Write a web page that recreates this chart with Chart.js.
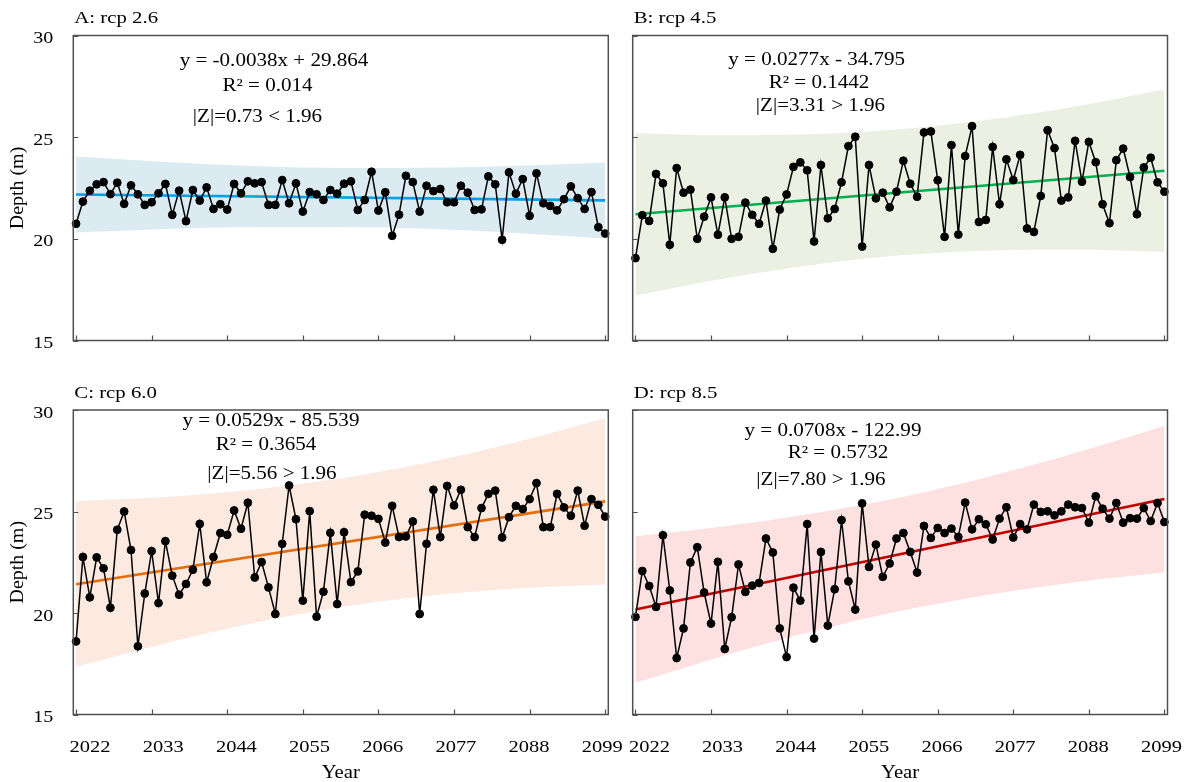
<!DOCTYPE html>
<html>
<head>
<meta charset="utf-8">
<title>Depth trends under RCP scenarios</title>
<script src="https://cdn.jsdelivr.net/npm/chart.js@4.4.1/dist/chart.umd.min.js"></script>
<style>
    body { margin: 0; background: #fff; }
    #wrap { position: relative; width: 1189px; height: 782px; }
    #wrap canvas { position: absolute; left: 0; top: 0; }
</style>
</head>
<body>
<div id="wrap">
    <canvas id="chartA" width="1189" height="782"></canvas>
    <canvas id="chartB" width="1189" height="782"></canvas>
    <canvas id="chartC" width="1189" height="782"></canvas>
    <canvas id="chartD" width="1189" height="782"></canvas>
</div>
<script>
'use strict';

// ====== DATA ======
const years = Array.from({ length: 78 }, (_, i) => 2022 + i);
const xTickYears = [2022, 2033, 2044, 2055, 2066, 2077, 2088, 2099];
const yTickValues = [15, 20, 25, 30];

const depthRcp26 = [
    20.74, 21.83, 22.37, 22.68, 22.79, 22.20, 22.76, 21.72, 22.63, 22.19,
    21.67, 21.80, 22.24, 22.70, 21.18, 22.37, 20.87, 22.40, 21.88, 22.53,
    21.47, 21.70, 21.44, 22.70, 22.24, 22.83, 22.73, 22.79, 21.67, 21.67,
    22.89, 21.75, 22.73, 21.34, 22.30, 22.19, 21.91, 22.40, 22.22, 22.71,
    22.83, 21.42, 21.91, 23.30, 21.39, 22.29, 20.15, 21.19, 23.10, 22.79,
    21.34, 22.61, 22.35, 22.45, 21.80, 21.80, 22.61, 22.27, 21.42, 21.45,
    23.07, 22.68, 19.95, 23.27, 22.22, 22.94, 21.13, 23.22, 21.75, 21.62,
    21.40, 21.95, 22.58, 22.00, 21.47, 22.30, 20.57, 20.26
];
const depthRcp45 = [
    19.05, 21.16, 20.88, 23.19, 22.73, 19.71, 23.48, 22.27, 22.42, 20.00,
    21.09, 22.04, 20.20, 22.04, 20.00, 20.10, 21.78, 21.18, 20.74, 21.88,
    19.51, 21.44, 22.18, 23.54, 23.76, 23.37, 19.87, 23.63, 21.01, 21.47,
    22.78, 24.56, 25.02, 19.62, 23.63, 21.99, 22.27, 21.55, 22.32, 23.84,
    22.71, 22.07, 25.23, 25.28, 22.88, 20.10, 24.61, 20.21, 24.07, 25.54,
    20.83, 20.93, 24.52, 21.70, 23.91, 22.89, 24.13, 20.51, 20.34, 22.11,
    25.34, 24.46, 21.88, 22.04, 24.82, 22.81, 24.77, 23.77, 21.70, 20.77,
    23.87, 24.44, 23.04, 21.21, 23.51, 23.99, 22.78, 22.32
];
const depthRcp60 = [
    18.60, 22.76, 20.77, 22.74, 22.20, 20.26, 24.10, 25.00, 23.10, 18.36,
    20.96, 23.05, 20.49, 23.54, 21.84, 20.90, 21.43, 22.13, 24.39, 21.51,
    22.76, 23.94, 23.85, 25.05, 24.15, 25.43, 21.75, 22.51, 21.26, 19.95,
    23.41, 26.28, 24.62, 20.61, 25.02, 19.82, 21.05, 23.95, 20.44, 23.98,
    21.52, 22.05, 24.84, 24.79, 24.64, 23.47, 25.28, 23.74, 23.77, 24.51,
    19.95, 23.41, 26.07, 23.74, 26.26, 25.30, 26.07, 24.23, 23.74, 25.17,
    25.87, 26.03, 23.72, 24.72, 25.28, 25.12, 25.61, 26.40, 24.23, 24.23,
    25.87, 25.20, 24.79, 26.03, 24.30, 25.61, 25.33, 24.75
];
const depthRcp85 = [
    19.81, 22.07, 21.33, 20.30, 23.83, 21.11, 17.78, 19.24, 22.49, 23.24,
    21.01, 19.48, 22.52, 18.23, 19.79, 22.39, 21.04, 21.35, 21.48, 23.67,
    22.98, 19.24, 17.83, 21.25, 20.61, 24.38, 18.74, 23.01, 19.38, 21.17,
    24.58, 21.56, 20.17, 25.40, 22.27, 23.37, 21.78, 22.44, 23.67, 23.94,
    23.01, 21.99, 24.29, 23.70, 24.19, 23.94, 24.16, 23.75, 25.44, 24.12,
    24.62, 24.37, 23.62, 24.65, 25.21, 23.72, 24.38, 24.12, 25.34, 24.98,
    25.01, 24.81, 25.01, 25.34, 25.21, 25.17, 24.45, 25.75, 25.14, 24.65,
    25.42, 24.45, 24.67, 24.65, 25.17, 24.53, 25.42, 24.48
];

// fitted trend lines, read at both ends
const trendYears = [2022, 2099];
const trendRcp26 = [22.18, 21.89];
const trendRcp45 = [21.21, 23.35];
const trendRcp60 = [21.42, 25.50];
const trendRcp85 = [20.17, 25.62];

// shaded band, upper / lower edge read at a few years
const bandYears = [2022, 2035, 2048, 2061, 2073, 2086, 2099];
const bandUpperRcp26 = [24.05, 23.78, 23.58, 23.48, 23.49, 23.59, 23.76];
const bandLowerRcp26 = [20.31, 20.48, 20.58, 20.58, 20.49, 20.29, 20.02];
const bandUpperRcp45 = [25.21, 25.09, 25.15, 25.40, 25.84, 26.51, 27.35];
const bandLowerRcp45 = [17.21, 18.05, 18.73, 19.20, 19.42, 19.47, 19.35];
const bandUpperRcp60 = [25.52, 25.71, 26.08, 26.66, 27.40, 28.41, 29.59];
const bandLowerRcp60 = [17.34, 18.51, 19.52, 20.32, 20.84, 21.21, 21.41];
const bandUpperRcp85 = [23.78, 24.27, 24.91, 25.73, 26.68, 27.88, 29.23];
const bandLowerRcp85 = [16.56, 17.91, 19.11, 20.13, 20.88, 21.52, 22.01];

const panelTitles = ['A: rcp 2.6', 'B: rcp 4.5', 'C: rcp 6.0', 'D: rcp 8.5'];
const equationTexts = [
    ['y = -0.0038x + 29.864', 'R\u00b2 = 0.014', '|Z|=0.73 < 1.96'],
    ['y = 0.0277x - 34.795', 'R\u00b2 = 0.1442', '|Z|=3.31 > 1.96'],
    ['y = 0.0529x - 85.539', 'R\u00b2 = 0.3654', '|Z|=5.56 > 1.96'],
    ['y = 0.0708x - 122.99', 'R\u00b2 = 0.5732', '|Z|=7.80 > 1.96']
];

// ====== LAYOUT / STYLE ======
const FONT = '"Liberation Serif", "Times New Roman", serif';
const PAGE_W = 1189, PAGE_H = 782;

const PANELS = [
    { id: 'chartA', series: depthRcp26, trend: trendRcp26, upper: bandUpperRcp26, lower: bandLowerRcp26,
      box: [73.3, 35.5, 608.3, 340.5], band: '#dbebf1', line: '#00a0e6', left: true, bottom: false,
      titleY: 23, eqPos: [[274, 66], [267.5, 91], [257.5, 122]] },
    { id: 'chartB', series: depthRcp45, trend: trendRcp45, upper: bandUpperRcp45, lower: bandLowerRcp45,
      box: [632.7, 35.5, 1167.5, 340.5], band: '#ebf0e3', line: '#00b050', left: false, bottom: false,
      titleY: 23, eqPos: [[816.7, 65], [819, 87.5], [820.5, 111]] },
    { id: 'chartC', series: depthRcp60, trend: trendRcp60, upper: bandUpperRcp60, lower: bandLowerRcp60,
      box: [73.3, 410, 608.3, 714.5], band: '#fce9df', line: '#e46c0a', left: true, bottom: true,
      titleY: 398, eqPos: [[271, 426], [266, 450], [272, 479]] },
    { id: 'chartD', series: depthRcp85, trend: trendRcp85, upper: bandUpperRcp85, lower: bandLowerRcp85,
      box: [632.7, 410, 1167.5, 714.5], band: '#fde0e0', line: '#c00000', left: false, bottom: true,
      titleY: 398, eqPos: [[833, 436], [838, 458], [821, 485]] }
];

// ====== HELPERS ======
function toPoints(xs, ys) {
    return xs.map((x, i) => ({ x, y: ys[i] }));
}

// text in the reference is drawn a bit wide, so stretch it horizontally
function wideText(ctx, str, x, y, align, sx) {
    ctx.save();
    ctx.translate(x, y);
    ctx.scale(sx, 1);
    ctx.textAlign = align;
    ctx.fillText(str, 0, 0);
    ctx.restore();
}

// ====== DECOR PLUGIN ======
function makeDecor(p, idx) {
    return {
        id: 'panelDecor' + idx,
        afterDraw(chart) {
            const { ctx, chartArea: a, scales: { x, y } } = chart;
            ctx.save();

            // frame + inward ticks
            ctx.strokeStyle = '#505050';
            ctx.lineWidth = 1.5;
            ctx.strokeRect(a.left, a.top, a.right - a.left, a.bottom - a.top);
            ctx.beginPath();
            yTickValues.forEach(v => {
                const py = Math.round(y.getPixelForValue(v)) + 0.5;
                ctx.moveTo(a.left, py);
                ctx.lineTo(a.left + 5, py);
            });
            xTickYears.forEach(v => {
                const px = Math.round(x.getPixelForValue(v)) + 0.5;
                ctx.moveTo(px, a.bottom);
                ctx.lineTo(px, a.bottom - 5);
            });
            ctx.lineWidth = 1.2;
            ctx.stroke();

            ctx.fillStyle = '#000';
            ctx.textBaseline = 'alphabetic';

            // panel title
            ctx.font = '16px ' + FONT;
            wideText(ctx, panelTitles[idx], a.left + 1, p.titleY, 'left', 1.3);

            // equation block
            ctx.font = '18px ' + FONT;
            equationTexts[idx].forEach((t, i) => {
                wideText(ctx, t, p.eqPos[i][0], p.eqPos[i][1], 'center', 1.17);
            });

            // y tick labels + axis title
            if (p.left) {
                ctx.font = '16px ' + FONT;
                yTickValues.forEach(v => {
                    wideText(ctx, String(v), a.left - 20, y.getPixelForValue(v) + 7.5, 'right', 1.25);
                });
                ctx.save();
                ctx.translate(18, (a.top + a.bottom) / 2);
                ctx.rotate(-Math.PI / 2);
                ctx.font = '19px ' + FONT;
                ctx.textBaseline = 'middle';
                wideText(ctx, 'Depth (m)', 0, 0, 'center', 1.05);
                ctx.restore();
            }

            // x tick labels + axis title
            if (p.bottom) {
                ctx.font = '16px ' + FONT;
                xTickYears.forEach((v, k) => {
                    const shift = 14 - 17 * k / (xTickYears.length - 1);
                    wideText(ctx, String(v), x.getPixelForValue(v) + shift, 752, 'center', 1.28);
                });
                ctx.font = '18px ' + FONT;
                wideText(ctx, 'Year', (a.left + a.right) / 2, 778, 'center', 1.15);
            }

            ctx.restore();
        }
    };
}

// ====== BUILD PANELS ======
function buildPanel(p, idx) {
    const ctx = document.getElementById(p.id).getContext('2d');
    const [l, t, r, b] = p.box;

    return new Chart(ctx, {
        type: 'line',
        data: {
            datasets: [
                {
                    label: 'Depth',
                    data: toPoints(years, p.series),
                    borderColor: '#000',
                    borderWidth: 1.5,
                    pointRadius: 3.9,
                    pointBorderWidth: 1,
                    pointBorderColor: '#000',
                    pointBackgroundColor: '#000',
                    tension: 0,
                    clip: false,
                    order: 0
                },
                {
                    label: 'Trend',
                    data: toPoints(trendYears, p.trend),
                    borderColor: p.line,
                    borderWidth: 2.6,
                    pointRadius: 0,
                    order: 1
                },
                {
                    label: 'Band upper',
                    data: toPoints(bandYears, p.upper),
                    borderColor: 'rgba(0,0,0,0)',
                    borderWidth: 0,
                    pointRadius: 0,
                    cubicInterpolationMode: 'monotone',
                    backgroundColor: p.band,
                    fill: '+1',
                    order: 2
                },
                {
                    label: 'Band lower',
                    data: toPoints(bandYears, p.lower),
                    borderColor: 'rgba(0,0,0,0)',
                    borderWidth: 0,
                    pointRadius: 0,
                    cubicInterpolationMode: 'monotone',
                    fill: false,
                    order: 3
                }
            ]
        },
        options: {
            responsive: false,
            animation: false,
            devicePixelRatio: 1,
            events: [],
            layout: { padding: { left: l, top: t, right: PAGE_W - r, bottom: PAGE_H - b } },
            plugins: {
                legend: { display: false },
                tooltip: { enabled: false }
            },
            scales: {
                x: { type: 'linear', display: false, min: 2021.6, max: 2099.45 },
                y: { type: 'linear', display: false, min: 15, max: 30 }
            }
        },
        plugins: [makeDecor(p, idx)]
    });
}

PANELS.forEach(buildPanel);
</script>
</body>
</html>
